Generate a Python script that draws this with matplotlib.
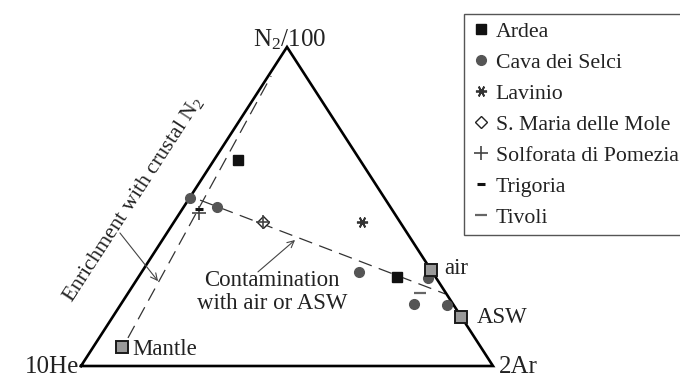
import matplotlib.pyplot as plt
from matplotlib.lines import Line2D

plt.rcParams['font.family'] = ['Liberation Serif', 'DejaVu Serif']
plt.rcParams['mathtext.fontset'] = 'custom'
plt.rcParams['mathtext.rm'] = 'Liberation Serif'
plt.rcParams['mathtext.it'] = 'Liberation Serif:italic'

# relative fractions of N2/100 and 2Ar (10He is the remainder)
ardea_n2 = [0.646, 0.279]
ardea_ar = [0.058, 0.627]
cava_n2 = [0.527, 0.498, 0.295, 0.194, 0.191, 0.276]
cava_ar = [0.000, 0.081, 0.527, 0.711, 0.793, 0.704]
lavinio_n2 = [0.451]
lavinio_ar = [0.456]
smaria_n2 = [0.451]
smaria_ar = [0.216]
solforata_n2 = [0.480, 0.451]
solforata_ar = [0.047, 0.216]
trigoria_n2 = [0.492]
trigoria_ar = [0.040]
tivoli_n2 = [0.229]
tivoli_ar = [0.708]

# end members
ref_names = ['air', 'ASW', 'Mantle']
ref_n2 = [0.300, 0.153, 0.060]
ref_ar = [0.700, 0.847, 0.070]

# mixing trends
enrich_n2 = [0.088, 0.909]
enrich_ar = [0.070, 0.007]
contam_n2 = [0.520, 0.226]
contam_ar = [0.029, 0.771]


def tern(n2, ar):
    # He at (0,0), Ar at (1,0), N2 at the apex (0.5,1)
    xs = [a + 0.5 * n for n, a in zip(n2, ar)]
    return xs, list(n2)


def tern1(n2, ar):
    x, y = tern([n2], [ar])
    return x[0], y[0]


fig = plt.figure(figsize=(6.8, 3.79), dpi=100)
ax = fig.add_axes([81 / 680, 13 / 379, 412 / 680, 319 / 379])
ax.set_xlim(0, 1)
ax.set_ylim(0, 1)
ax.axis('off')

txt = '#222222'

# triangle frame
fx, fy = tern([0, 0, 1, 0], [0, 1, 0, 0])
ax.plot(fx, fy, color='black', lw=1.9, clip_on=False, zorder=2, solid_joinstyle='miter')

# trend lines
x, y = tern(enrich_n2, enrich_ar)
ax.plot(x, y, color='#333333', lw=0.9, dashes=(11, 6), zorder=1)
x, y = tern(contam_n2, contam_ar)
ax.plot(x, y, color='#333333', lw=0.9, dashes=(11, 6), zorder=1)

# samples
x, y = tern(cava_n2, cava_ar)
ax.plot(x, y, 'o', color='#555555', ms=7, mec='#555555', clip_on=False, zorder=3)
x, y = tern(ardea_n2, ardea_ar)
ax.plot(x, y, 's', color='#111111', ms=7, zorder=4)
x, y = tern(lavinio_n2, lavinio_ar)
ax.plot(x, y, marker=(6, 2, 90), ls='none', color='#333333', ms=8, mew=1.3, zorder=4)
x, y = tern(smaria_n2, smaria_ar)
ax.plot(x, y, 'D', mfc='white', mec='#222222', ms=6, mew=1.0, zorder=4)
x, y = tern(solforata_n2, solforata_ar)
ax.plot(x, y, '+', color='#444444', ms=10, mew=1.2, zorder=5)
x, y = tern(trigoria_n2, trigoria_ar)
ax.plot(x, y, '_', color='#111111', ms=6, mew=2.2, zorder=5)
x, y = tern(tivoli_n2, tivoli_ar)
ax.plot(x, y, '_', color='#666666', ms=9, mew=1.6, zorder=5)

# end members
x, y = tern(ref_n2, ref_ar)
ax.plot(x, y, 's', mfc='#999999', mec='#1a1a1a', ms=9, mew=1.4, zorder=6, clip_on=False)
offsets = [(13, 2), (15, 0), (10, -3)]
for name, px, py, off in zip(ref_names, x, y, offsets):
    ax.annotate(name, (px, py), xytext=off, textcoords='offset pixels',
                ha='left', va='center', fontsize=16.5, color=txt)

# corner labels
ax.annotate('10He', tern1(0, 0), xytext=(-2, -1), textcoords='offset pixels',
            ha='right', va='center', fontsize=18, color=txt)
ax.annotate('2Ar', tern1(0, 1), xytext=(6, -1), textcoords='offset pixels',
            ha='left', va='center', fontsize=18, color=txt)
ax.annotate(r'N$_2$/100', tern1(1, 0), xytext=(3, -5), textcoords='offset pixels',
            ha='center', va='bottom', fontsize=18, color=txt)

# annotations
ax.text(*tern1(0.524, -0.135), r'Enrichment with crustal N$_2$', rotation=57,
        rotation_mode='anchor', ha='center', va='center', fontsize=15.8, color=txt)
ax.annotate('', xy=tern1(0.266, 0.054), xytext=tern1(0.417, -0.114),
            arrowprops=dict(arrowstyle='->', color='#444444', lw=0.8,
                            shrinkA=0, shrinkB=0, mutation_scale=12))
ax.text(*tern1(0.232, 0.348), 'Contamination\nwith air or ASW', ha='center',
        va='center', fontsize=16.5, color=txt, linespacing=1.1)
ax.annotate('', xy=tern1(0.395, 0.322), xytext=tern1(0.295, 0.282),
            arrowprops=dict(arrowstyle='->', color='#444444', lw=0.8,
                            shrinkA=0, shrinkB=0, mutation_scale=12))

handles = [
    Line2D([], [], ls='none', marker='s', color='#111111', ms=7),
    Line2D([], [], ls='none', marker='o', color='#555555', ms=7),
    Line2D([], [], ls='none', marker=(6, 2, 90), color='#333333', ms=8, mew=1.3),
    Line2D([], [], ls='none', marker='D', mfc='white', mec='#222222', ms=6, mew=1.0),
    Line2D([], [], ls='none', marker='+', color='#444444', ms=10, mew=1.2),
    Line2D([], [], ls='none', marker='_', color='#111111', ms=6, mew=2.2),
    Line2D([], [], ls='none', marker='_', color='#666666', ms=9, mew=1.6),
]
labels = ['Ardea', 'Cava dei Selci', 'Lavinio', 'S. Maria delle Mole',
          'Solforata di Pomezia', 'Trigoria', 'Tivoli']
leg = fig.legend(handles, labels, loc='upper left', bbox_to_anchor=(464 / 680, 1 - 14 / 379),
                 bbox_transform=fig.transFigure, borderaxespad=0, fontsize=15.7,
                 frameon=True, fancybox=False, edgecolor='#555555', framealpha=1,
                 handlelength=0.9, handletextpad=0.2, borderpad=0.35, labelspacing=0.49,
                 labelcolor=txt)
leg.get_frame().set_linewidth(1.0)

fig.savefig('out.png', dpi=100)
